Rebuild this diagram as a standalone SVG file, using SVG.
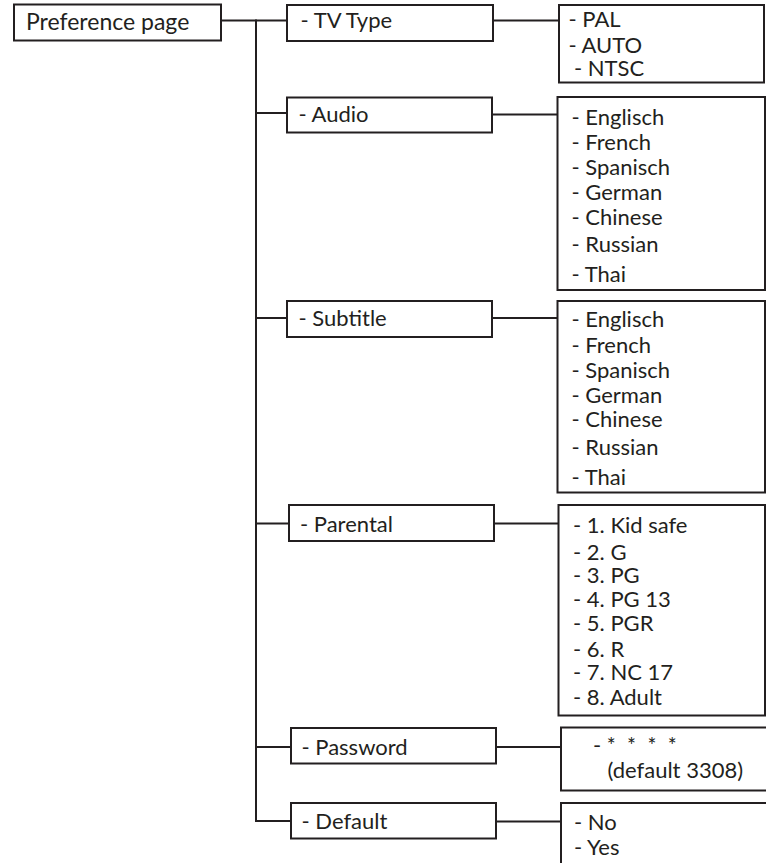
<svg xmlns="http://www.w3.org/2000/svg" width="766" height="863" viewBox="0 0 766 863">
<style>
rect{fill:#fff;stroke:#231f20;stroke-width:2}
.c line{stroke:#231f20;stroke-width:2}
text{font-family:Lato,"Open Sans",sans-serif;font-size:22px;fill:#231f20}
.big{font-size:23px}
</style>
<rect x="0" y="0" width="766" height="863" style="stroke:none"/>
<g class="c" id="connectors">
<line x1="221" y1="20.5" x2="287" y2="20.5"/>
<line x1="256" y1="19.5" x2="256" y2="822"/>
<line x1="256" y1="113" x2="287" y2="113"/>
<line x1="256" y1="318" x2="287" y2="318"/>
<line x1="256" y1="523.5" x2="289" y2="523.5"/>
<line x1="256" y1="747" x2="291" y2="747"/>
<line x1="255" y1="821" x2="291" y2="821"/>
<line x1="493" y1="20.5" x2="559" y2="20.5"/>
<line x1="492" y1="114.5" x2="557.5" y2="114.5"/>
<line x1="492" y1="318" x2="557.5" y2="318"/>
<line x1="494" y1="523.5" x2="558.5" y2="523.5"/>
<line x1="496" y1="747" x2="561" y2="747"/>
<line x1="496" y1="821.5" x2="561" y2="821.5"/>
</g>
<g id="preference">
<rect x="14" y="4.5" width="207" height="36"/>
<text class="big" x="26" y="29.5">Preference page</text>
</g>
<g id="tvtype">
<rect x="287" y="5" width="206" height="36"/>
<text x="300.5" y="28">- TV Type</text>
</g>
<g id="tvtype-options">
<rect x="559" y="5" width="205" height="77.5"/>
<text x="568.5" y="26.5">- PAL</text>
<text x="568.5" y="53">- AUTO</text>
<text x="574" y="76">- NTSC</text>
</g>
<g id="audio">
<rect x="287" y="97.5" width="205" height="35"/>
<text x="298.5" y="122">- Audio</text>
</g>
<g id="audio-options">
<rect x="557.5" y="97" width="207.5" height="193"/>
<text x="571.5" y="125">- Englisch</text>
<text x="571.5" y="150">- French</text>
<text x="571.5" y="175">- Spanisch</text>
<text x="571.5" y="199.5">- German</text>
<text x="571.5" y="224.5">- Chinese</text>
<text x="571.5" y="251.5">- Russian</text>
<text x="571.5" y="281.5">- Thai</text>
</g>
<g id="subtitle">
<rect x="287" y="301" width="205" height="36"/>
<text x="298.5" y="325.5">- Subtitle</text>
</g>
<g id="subtitle-options">
<rect x="557.5" y="301" width="207.5" height="191.5"/>
<text x="571.5" y="326.5">- Englisch</text>
<text x="571.5" y="353">- French</text>
<text x="571.5" y="378">- Spanisch</text>
<text x="571.5" y="403">- German</text>
<text x="571.5" y="427">- Chinese</text>
<text x="571.5" y="455">- Russian</text>
<text x="571.5" y="485">- Thai</text>
</g>
<g id="parental">
<rect x="289" y="505" width="205" height="36"/>
<text x="300" y="531.5">- Parental</text>
</g>
<g id="parental-options">
<rect x="558.5" y="505" width="206.5" height="210.5"/>
<text x="573" y="532.5">- 1. Kid safe</text>
<text x="573" y="560">- 2. G</text>
<text x="573" y="582.5">- 3. PG</text>
<text x="573" y="606.5">- 4. PG 13</text>
<text x="573" y="630.5">- 5. PGR</text>
<text x="573" y="656.5">- 6. R</text>
<text x="573" y="680">- 7. NC 17</text>
<text x="573" y="705">- 8. Adult</text>
</g>
<g id="password">
<rect x="291" y="728" width="205" height="35.5"/>
<text x="301.5" y="755">- Password</text>
</g>
<g id="password-options">
<rect x="561" y="727.5" width="210" height="63"/>
<text x="593" y="753">- <tspan font-size="21" letter-spacing="3">* * * *</tspan></text>
<text x="607.5" y="777.5">(default 3308)</text>
</g>
<g id="default">
<rect x="291" y="803" width="205" height="35.5"/>
<text x="301.5" y="828.5">- Default</text>
</g>
<g id="default-options">
<rect x="561" y="803" width="210" height="70"/>
<text x="574" y="829.5">- No</text>
<text x="574" y="855">- Yes</text>
</g>
</svg>
